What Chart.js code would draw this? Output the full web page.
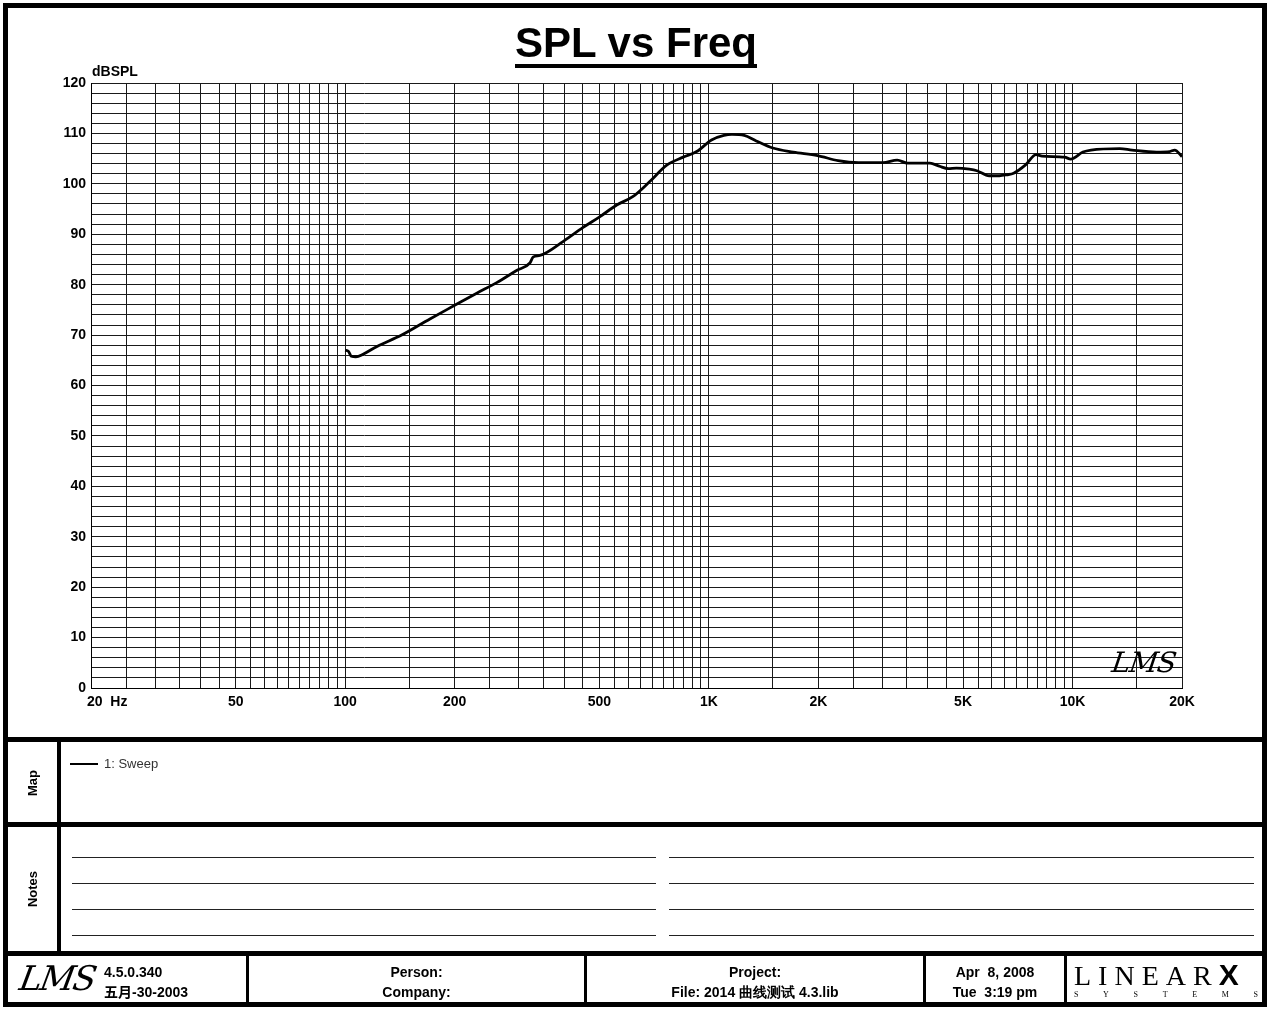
<!DOCTYPE html>
<html>
<head>
<meta charset="utf-8">
<script src="https://cdn.jsdelivr.net/npm/chart.js@4/dist/chart.umd.min.js"></script>
<style>
  html, body { margin: 0; padding: 0; background: #fff; }
  #page { position: relative; width: 1270px; height: 1010px; overflow: hidden; background: #fff;
          font-family: "Liberation Sans", Arial, sans-serif; color: #000; }
  #c { position: absolute; left: 0; top: 0; }
  .abs { position: absolute; }
  .bar { position: absolute; background: #000; }
  .b14 { font: bold 14px "Liberation Sans", Arial, sans-serif; line-height: 20px; white-space: pre; }
  .cell { position: absolute; top: 962px; text-align: center; }
  .note { position: absolute; height: 1px; background: #222; }
</style>
</head>
<body>
<div id="page">
  <canvas id="c" width="1270" height="740"></canvas>

  <div class="abs" id="title" style="left:0; width:1272px; top:22px; text-align:center; font:bold 42px 'Liberation Sans', Arial, sans-serif; line-height:42px; text-decoration:underline; text-decoration-thickness:4px; text-underline-offset:7px; text-decoration-skip-ink:none;">SPL vs Freq</div>
  <div class="abs" style="left:92px; top:63px; font:bold 14px 'Liberation Sans', Arial, sans-serif; line-height:16px;">dBSPL</div>
  <div class="abs" style="left:1112px; top:646px; font:italic 28px 'DejaVu Serif', serif; letter-spacing:-1px; transform:skewX(-8deg);">LMS</div>

  <!-- outer frame -->
  <div class="abs" style="left:3px; top:3px; width:1264px; height:1004px; border:5px solid #000; box-sizing:border-box;"></div>
  <!-- section separators -->
  <div class="bar" style="left:3px; width:1264px; top:737px; height:5px;"></div>
  <div class="bar" style="left:3px; width:1264px; top:822px; height:5px;"></div>
  <div class="bar" style="left:3px; width:1264px; top:951px; height:5px;"></div>
  <div class="bar" style="left:57px; width:4px; top:740px; height:213px;"></div>
  <!-- footer dividers -->
  <div class="bar" style="left:246px; width:3px; top:954px; height:52px;"></div>
  <div class="bar" style="left:584px; width:3px; top:954px; height:52px;"></div>
  <div class="bar" style="left:923px; width:3px; top:954px; height:52px;"></div>
  <div class="bar" style="left:1064px; width:3px; top:954px; height:52px;"></div>

  <!-- Map -->
  <div class="abs" style="left:32px; top:783px; transform:translate(-50%,-50%) rotate(-90deg); font:bold 13px 'Liberation Sans', Arial, sans-serif;">Map</div>
  <div class="abs" style="left:70px; top:763px; width:28px; height:2px; background:#000;"></div>
  <div class="abs" style="left:104px; top:756px; font:13px 'Liberation Sans', Arial, sans-serif; color:#333; line-height:16px;">1: Sweep</div>

  <!-- Notes -->
  <div class="abs" style="left:32px; top:889px; transform:translate(-50%,-50%) rotate(-90deg); font:bold 13px 'Liberation Sans', Arial, sans-serif;">Notes</div>
  <div class="note" style="left:72px; width:584px; top:857px;"></div>
  <div class="note" style="left:72px; width:584px; top:883px;"></div>
  <div class="note" style="left:72px; width:584px; top:909px;"></div>
  <div class="note" style="left:72px; width:584px; top:935px;"></div>
  <div class="note" style="left:669px; width:585px; top:857px;"></div>
  <div class="note" style="left:669px; width:585px; top:883px;"></div>
  <div class="note" style="left:669px; width:585px; top:909px;"></div>
  <div class="note" style="left:669px; width:585px; top:935px;"></div>

  <!-- Footer -->
  <div class="abs" style="left:20px; top:958px; font:italic 34px 'DejaVu Serif', serif; letter-spacing:-2px; transform:skewX(-10deg); line-height:40px;">LMS</div>
  <div class="abs b14" style="left:104px; top:962px;">4.5.0.340</div>
  <div class="abs" style="left:104px; top:982px; font:bold 14px 'Liberation Sans','Noto Sans CJK SC',sans-serif; line-height:20px; height:20px; white-space:pre;">五月-30-2003</div>
  <div class="cell b14" style="left:249px; width:335px;">Person:
Company:</div>
  <div class="abs" style="left:587px; width:336px; top:962px; text-align:center; font:bold 14px 'Liberation Sans', Arial, sans-serif; line-height:20px; white-space:pre;"><div style="height:20px;">Project:</div><div style="height:20px; line-height:20px;">File: 2014 曲线测试 4.3.lib</div></div>
  <div class="cell b14" style="left:926px; width:138px;">Apr  8, 2008
Tue  3:19 pm</div>
  <div class="abs" style="left:1074px; top:958px; font:28px 'Liberation Serif', 'DejaVu Serif', serif; letter-spacing:7px; line-height:32px; font-weight:300;">LINEAR<span style="font:900 30px 'Liberation Sans', Arial, sans-serif; letter-spacing:0;">X</span></div>
  <div class="abs" style="left:1074px; top:990px; width:184px; font:8px 'Liberation Serif', serif; display:flex; justify-content:space-between;"><span>S</span><span>Y</span><span>S</span><span>T</span><span>E</span><span>M</span><span>S</span></div>
</div>

<script>
// ---------------- data ----------------
const freqHz = [100, 102, 104, 107, 112, 122, 143, 171, 200, 230, 261, 296, 322, 329, 343, 398, 450, 502, 558, 619, 689, 766, 850, 926,
  1017, 1100, 1157, 1251, 1350, 1499, 1706, 1991, 2267, 2579, 3011, 3296, 3518, 4054, 4300, 4553, 4795, 5200, 5459, 5898, 6292, 6600,
  6888, 7441, 7937, 8248, 9509, 9886, 10680, 11245, 13486, 14570, 17013, 18500, 19100, 20000];
const splDb = [67.0, 66.8, 65.8, 65.7, 66.2, 67.7, 70.0, 73.2, 75.9, 78.3, 80.4, 82.8, 84.3, 85.5, 85.8, 88.6, 91.3, 93.5, 95.8, 97.5, 100.5, 103.7, 105.3, 106.4,
  108.7, 109.6, 109.8, 109.6, 108.5, 107.1, 106.3, 105.6, 104.6, 104.2, 104.2, 104.7, 104.1, 104.1, 103.5, 103.0, 103.1, 102.9, 102.6, 101.6, 101.6, 101.8,
  102.1, 103.8, 105.8, 105.5, 105.3, 104.9, 106.3, 106.7, 107.0, 106.7, 106.3, 106.4, 106.7, 105.4];

const xGridHz = [20, 25, 30, 35, 40, 45, 50, 55, 60, 65, 70, 75, 80, 85, 90, 95,
  100, 150, 200, 250, 300, 350, 400, 450, 500, 550, 600, 650, 700, 750, 800, 850, 900, 950,
  1000, 1500, 2000, 2500, 3000, 3500, 4000, 4500, 5000, 5500, 6000, 6500, 7000, 7500, 8000, 8500, 9000, 9500,
  10000, 15000, 20000];
const xLabelHz = [20, 50, 100, 200, 500, 1000, 2000, 5000, 10000, 20000];
const xLabelText = ['20  Hz', '50', '100', '200', '500', '1K', '2K', '5K', '10K', '20K'];
const yMin = 0, yMax = 120, yGridStep = 2, yLabelStep = 10;
const seriesName = '1: Sweep';

// --------------- chart ---------------
const points = freqHz.map((f, i) => ({ x: f, y: splDb[i] }));
const FONT = '"Liberation Sans", Arial, sans-serif';
const gridColor = '#1a1a1a';

const xLabelPlugin = {
  id: 'xLabels',
  afterDraw(chart) {
    const xs = chart.scales.x;
    const ctx = chart.ctx;
    ctx.save();
    ctx.font = 'bold 14px ' + FONT;
    ctx.fillStyle = '#000';
    ctx.textBaseline = 'middle';
    const y = chart.chartArea.bottom + 14;
    xLabelHz.forEach((v, i) => {
      const px = xs.getPixelForValue(v);
      if (i === 0) { ctx.textAlign = 'left'; ctx.fillText(xLabelText[i], px - 4, y); }
      else { ctx.textAlign = 'center'; ctx.fillText(xLabelText[i], px, y); }
    });
    ctx.restore();
  }
};

new Chart(document.getElementById('c'), {
  type: 'line',
  data: {
    datasets: [{
      label: seriesName,
      data: points,
      borderColor: '#000',
      borderWidth: 2.8,
      pointRadius: 0,
      fill: false,
      cubicInterpolationMode: 'monotone'
    }]
  },
  options: {
    responsive: false,
    animation: false,
    devicePixelRatio: 1,
    layout: { padding: { left: 41, top: 83, right: 88, bottom: 52 } },
    plugins: { legend: { display: false }, tooltip: { enabled: false }, title: { display: false } },
    scales: {
      x: {
        type: 'logarithmic',
        min: 20, max: 20000,
        afterBuildTicks: (scale) => { scale.ticks = xGridHz.map(v => ({ value: v })); },
        afterFit: (scale) => { scale.height = 0; },
        ticks: { display: false, autoSkip: false, padding: 0 },
        grid: { color: gridColor, lineWidth: 1, drawTicks: false },
        border: { color: '#000', width: 1 }
      },
      y: {
        type: 'linear',
        min: yMin, max: yMax,
        afterFit: (scale) => { scale.width = 50; },
        ticks: {
          stepSize: yGridStep,
          autoSkip: false,
          padding: 5,
          color: '#000',
          font: { family: FONT, size: 14, weight: 'bold' },
          callback: (v) => (v % yLabelStep === 0 ? String(v) : '')
        },
        grid: { color: gridColor, lineWidth: 1, drawTicks: false },
        border: { color: '#000', width: 1 }
      }
    }
  },
  plugins: [xLabelPlugin]
});
</script>
</body>
</html>
